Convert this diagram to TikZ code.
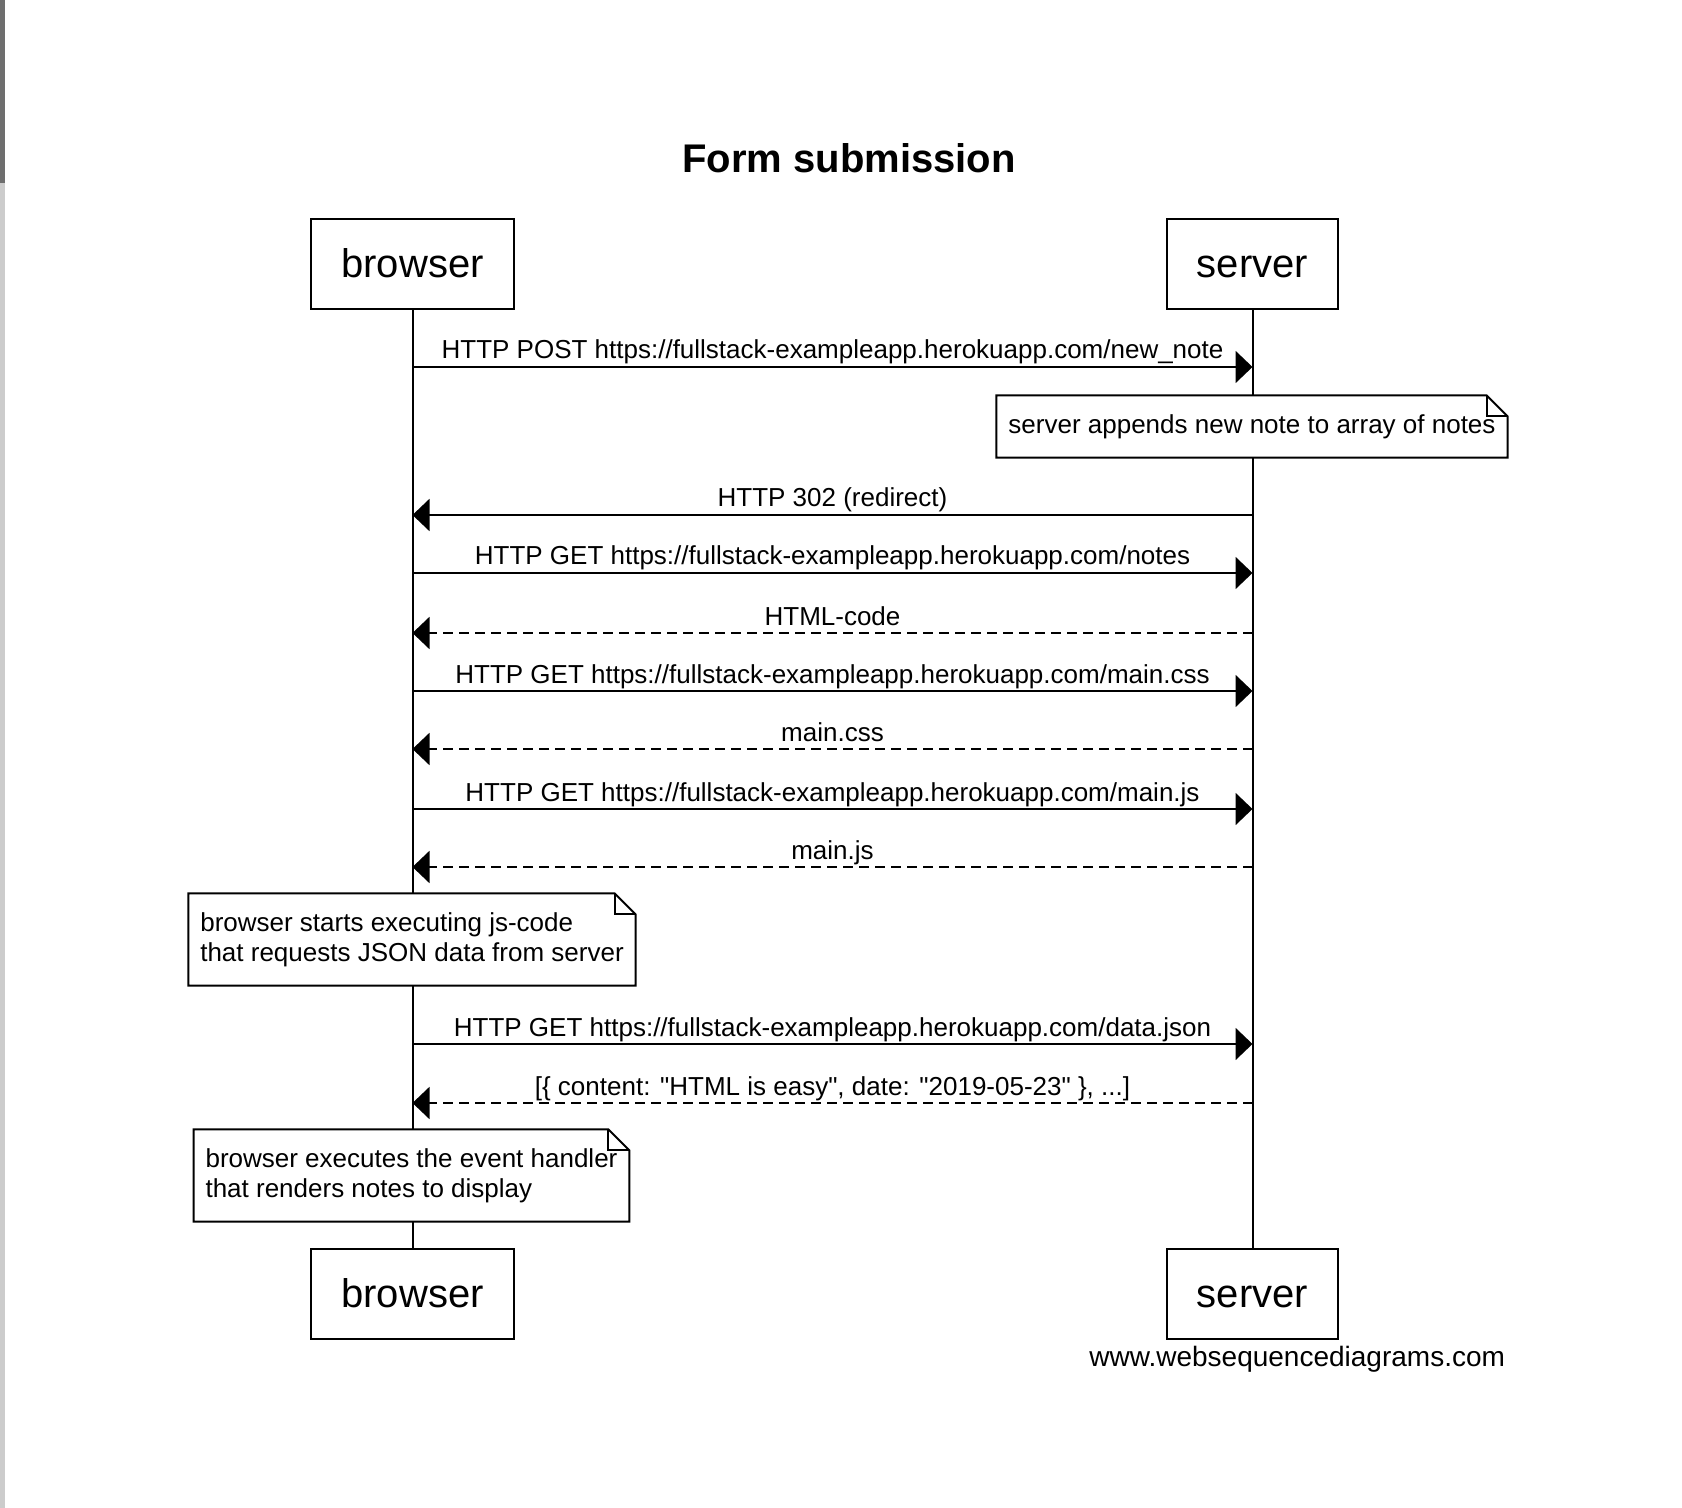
\documentclass[tikz,border=0pt]{standalone}
\usepackage{fontspec}
\setmainfont{Liberation Sans}
\usepackage{tikz}
\usetikzlibrary{positioning}
\usetikzlibrary{arrows.meta}
\definecolor{stripdark}{HTML}{6E6E6E}
\definecolor{striplight}{HTML}{CCCCCC}
\newcommand{\notecorner}[1]{%
  \fill[white] ([xshift=-10.5pt]#1.north east) -- (#1.north east) -- ([yshift=-10.5pt]#1.north east) -- cycle;
  \draw (#1.north west) -- ([xshift=-10.5pt]#1.north east) -- ([yshift=-10.5pt]#1.north east) -- (#1.south east) -- (#1.south west) -- cycle;
  \draw ([xshift=-10.5pt]#1.north east) |- ([yshift=-10.5pt]#1.north east);}

\begin{document}
\begin{tikzpicture}[x=0.5pt,y=-0.5pt,line width=1pt,
  actor/.style={draw,font=\fontsize{20}{24}\selectfont,inner xsep=15pt,text height=16pt,text depth=2.5pt,minimum height=45pt},
  note/.style={fill=white,align=left,font=\fontsize{13}{15}\selectfont,inner xsep=5.5pt,inner ysep=9pt},
  call/.style={-{Triangle[length=8.5pt,width=16pt]}},
  reply/.style={call,dash pattern=on 5pt off 3pt},
  lbl/.style={anchor=base,yshift=4pt,inner sep=0pt,font=\fontsize{13}{15}\selectfont}]
\useasboundingbox (0,0) rectangle (1682,1508);
\fill[stripdark] (0,0) rectangle (5,183);
\fill[striplight] (0,183) rectangle (5,1508);

\node[font=\bfseries\fontsize{20}{24}\selectfont,anchor=base] (title) at (849,173) {Form submission};

\node[actor] (bt) at (412.5,264) {browser};
\node[actor] (st) at (1252.5,264) {server};
\node[actor] (bb) at (412.5,1294) {browser};
\node[actor] (sb) at (1252.5,1294) {server};
\draw (bt) -- (bb);
\draw (st) -- (sb);

\coordinate (b1) at (412.5,367);  \coordinate (s1) at (1252.5,367);
\coordinate (b2) at (412.5,515);  \coordinate (s2) at (1252.5,515);
\coordinate (b3) at (412.5,573);  \coordinate (s3) at (1252.5,573);
\coordinate (b4) at (412.5,633);  \coordinate (s4) at (1252.5,633);
\coordinate (b5) at (412.5,691);  \coordinate (s5) at (1252.5,691);
\coordinate (b6) at (412.5,749);  \coordinate (s6) at (1252.5,749);
\coordinate (b7) at (412.5,809);  \coordinate (s7) at (1252.5,809);
\coordinate (b8) at (412.5,867);  \coordinate (s8) at (1252.5,867);
\coordinate (b9) at (412.5,1044); \coordinate (s9) at (1252.5,1044);
\coordinate (b10) at (412.5,1103); \coordinate (s10) at (1252.5,1103);

\draw[call] (b1) -- node[lbl] {HTTP POST https://fullstack-exampleapp.herokuapp.com/new\_note} (s1);
\node[note] (n1) at (1252,426.5) {server appends new note to array of notes};
\notecorner{n1}
\draw[call] (s2) -- node[lbl] {HTTP 302 (redirect)} (b2);
\draw[call] (b3) -- node[lbl] {HTTP GET https://fullstack-exampleapp.herokuapp.com/notes} (s3);
\draw[reply] (s4) -- node[lbl] {HTML-code} (b4);
\draw[call] (b5) -- node[lbl] {HTTP GET https://fullstack-exampleapp.herokuapp.com/main.css} (s5);
\draw[reply] (s6) -- node[lbl] {main.css} (b6);
\draw[call] (b7) -- node[lbl] {HTTP GET https://fullstack-exampleapp.herokuapp.com/main.js} (s7);
\draw[reply] (s8) -- node[lbl] {main.js} (b8);
\node[note] (n2) at (412,939.5) {browser starts executing js-code\\that requests JSON data from server};
\notecorner{n2}
\draw[call] (b9) -- node[lbl] {HTTP GET https://fullstack-exampleapp.herokuapp.com/data.json} (s9);
\draw[reply] (s10) -- node[lbl] {[\{ content: \textquotedbl HTML is easy\textquotedbl, date: \textquotedbl 2019-05-23\textquotedbl\ \}, ...]} (b10);
\node[note] (n3) at (411.5,1175.5) {browser executes the event handler\\that renders notes to display};
\notecorner{n3}

\node[font=\fontsize{14}{17}\selectfont,anchor=base east,inner sep=0pt] (wsd) at (1506,1366) {www.websequencediagrams.com};
\end{tikzpicture}
\end{document}
